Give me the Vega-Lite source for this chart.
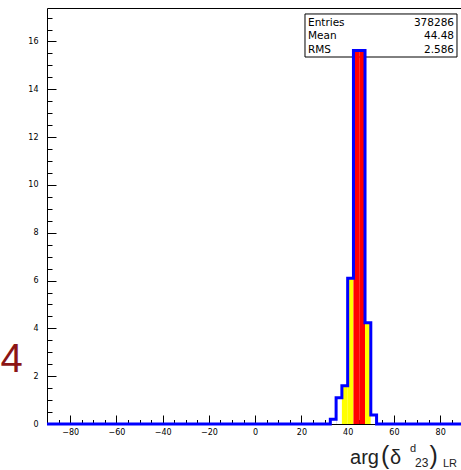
{
  "$schema": "https://vega.github.io/schema/vega-lite/v6.json",
  "width": 414,
  "height": 416,
  "autosize": {"type": "none"},
  "padding": {"left": 47, "top": 8, "right": 0, "bottom": 46},
  "background": "white",
  "config": {
    "view": {"stroke": null},
    "scale": {"continuousPadding": 0},
    "axis": {
      "labelFont": "DejaVu Sans",
      "labelFontSize": 8,
      "labelColor": "black",
      "domainColor": "black",
      "domainWidth": 1,
      "tickColor": "black",
      "tickWidth": 1,
      "grid": false,
      "title": null,
      "labelOverlap": false,
      "labelFlush": false
    }
  },
  "datasets": {
    "hist": [
      {"lo": -90, "hi": 32.5, "count": 0, "region": "outer"},
      {"lo": 32.5, "hi": 35, "count": 0.2, "region": "outer"},
      {"lo": 35, "hi": 37.5, "count": 1.1, "region": "outer"},
      {"lo": 37.5, "hi": 40, "count": 1.6, "region": "core"},
      {"lo": 40, "hi": 42.5, "count": 6.1, "region": "core"},
      {"lo": 42.5, "hi": 45, "count": 15.62, "region": "peak"},
      {"lo": 45, "hi": 47.5, "count": 15.62, "region": "peak"},
      {"lo": 47.5, "hi": 50, "count": 4.23, "region": "core"},
      {"lo": 50, "hi": 52.5, "count": 0.38, "region": "outer"},
      {"lo": 52.5, "hi": 90, "count": 0, "region": "outer"}
    ],
    "stats": [
      {"stat": "Entries", "value": "378286"},
      {"stat": "Mean", "value": "44.48"},
      {"stat": "RMS", "value": "2.586"}
    ],
    "one": [{}]
  },
  "resolve": {"axis": {"x": "independent", "y": "independent"}},
  "layer": [
    {
      "data": {"name": "one"},
      "mark": {"type": "rect", "fill": "white", "stroke": "black", "strokeWidth": 1},
      "encoding": {
        "x": {"datum": 21.55, "type": "quantitative", "scale": {"domain": [-90, 89], "nice": false, "zero": false, "padding": 0},
              "axis": {"orient": "top", "labels": false, "ticks": false, "domain": true, "title": null}},
        "x2": {"datum": 87.27},
        "y": {"datum": 17.15, "type": "quantitative", "scale": {"domain": [0, 17.4], "nice": false, "padding": 0}, "axis": null},
        "y2": {"datum": 15.35}
      }
    },
    {
      "data": {"name": "stats"},
      "mark": {"type": "text", "align": "left", "baseline": "alphabetic", "font": "DejaVu Sans", "fontSize": 10.5, "color": "black"},
      "encoding": {
        "x": {"datum": 22.85, "type": "quantitative", "scale": {"domain": [-90, 89], "nice": false, "zero": false, "padding": 0}, "axis": null},
        "y": {"datum": 16.65, "type": "quantitative", "scale": {"domain": [0, 17.4], "nice": false, "padding": 0}, "axis": null},
        "yOffset": {"field": "stat", "type": "nominal", "sort": ["Entries", "Mean", "RMS"], "scale": {"type": "point", "range": [0, 27], "padding": 0}},
        "text": {"field": "stat"}
      }
    },
    {
      "data": {"name": "stats"},
      "mark": {"type": "text", "align": "right", "baseline": "alphabetic", "font": "DejaVu Sans", "fontSize": 10.5, "color": "black"},
      "encoding": {
        "x": {"datum": 85.98, "type": "quantitative", "scale": {"domain": [-90, 89], "nice": false, "zero": false, "padding": 0}, "axis": null},
        "y": {"datum": 16.65, "type": "quantitative", "scale": {"domain": [0, 17.4], "nice": false, "padding": 0}, "axis": null},
        "yOffset": {"field": "stat", "type": "nominal", "sort": ["Entries", "Mean", "RMS"], "scale": {"type": "point", "range": [0, 27], "padding": 0}},
        "text": {"field": "value"}
      }
    },
    {
      "data": {"name": "hist"},
      "mark": {"type": "bar", "strokeWidth": 0, "orient": "vertical"},
      "encoding": {
        "x": {"field": "lo", "type": "quantitative", "scale": {"domain": [-90, 89], "nice": false, "zero": false, "padding": 0},
              "axis": {"orient": "bottom", "values": [-80, -60, -40, -20, 0, 20, 40, 60, 80], "tickSize": -9, "labelPadding": 13, "domain": true}},
        "x2": {"field": "hi"},
        "y": {"field": "count", "type": "quantitative", "scale": {"domain": [0, 17.4], "nice": false, "padding": 0},
              "axis": {"orient": "left", "values": [0, 2, 4, 6, 8, 10, 12, 14, 16], "tickSize": -9, "labelPadding": 18, "domain": true}},
        "y2": {"datum": 0},
        "color": {"field": "region", "type": "nominal", "scale": {"domain": ["peak", "core", "outer"], "range": ["#ff0000", "#ffff00", "#ffffff"]}, "legend": null}
      }
    },
    {
      "data": {"name": "hist"},
      "transform": [{"fold": ["lo", "hi"], "as": ["side", "edge"]}],
      "mark": {"type": "line", "color": "#0000ff", "strokeWidth": 3, "strokeJoin": "miter", "strokeCap": "butt"},
      "encoding": {
        "x": {"field": "edge", "type": "quantitative", "scale": {"domain": [-90, 89], "nice": false, "zero": false, "padding": 0},
              "axis": {"orient": "bottom", "values": [-85, -80, -75, -70, -65, -60, -55, -50, -45, -40, -35, -30, -25, -20, -15, -10, -5, 0, 5, 10, 15, 20, 25, 30, 35, 40, 45, 50, 55, 60, 65, 70, 75, 80, 85], "tickSize": -4.5, "labels": false, "domain": false}},
        "y": {"field": "count", "type": "quantitative", "scale": {"domain": [0, 17.4], "nice": false, "padding": 0},
              "axis": {"orient": "left", "values": [0.5, 1, 1.5, 2, 2.5, 3, 3.5, 4, 4.5, 5, 5.5, 6, 6.5, 7, 7.5, 8, 8.5, 9, 9.5, 10, 10.5, 11, 11.5, 12, 12.5, 13, 13.5, 14, 14.5, 15, 15.5, 16, 16.5, 17], "tickSize": -5, "labels": false, "domain": false}},
        "order": [{"field": "lo", "type": "quantitative"}, {"field": "edge", "type": "quantitative"}]
      }
    },
    {
      "data": {"name": "one"},
      "mark": {"type": "text", "align": "left", "baseline": "alphabetic", "font": "Liberation Sans", "fontSize": 20, "color": "#222222", "text": "arg"},
      "encoding": {
        "x": {"datum": 41.01, "type": "quantitative", "scale": {"domain": [-90, 89], "nice": false, "zero": false, "padding": 0}, "axis": null},
        "y": {"datum": -1.673, "type": "quantitative", "scale": {"domain": [0, 17.4], "nice": false, "padding": 0}, "axis": null}
      }
    },
    {
      "data": {"name": "one"},
      "mark": {"type": "text", "align": "left", "baseline": "alphabetic", "font": "Liberation Sans", "fontSize": 25, "color": "#222222", "text": "("},
      "encoding": {
        "x": {"datum": 54.41, "type": "quantitative", "scale": {"domain": [-90, 89], "nice": false, "zero": false, "padding": 0}, "axis": null},
        "y": {"datum": -1.673, "type": "quantitative", "scale": {"domain": [0, 17.4], "nice": false, "padding": 0}, "axis": null}
      }
    },
    {
      "data": {"name": "one"},
      "mark": {"type": "text", "align": "left", "baseline": "alphabetic", "font": "Liberation Sans", "fontSize": 20, "color": "#222222", "text": "δ"},
      "encoding": {
        "x": {"datum": 58.3, "type": "quantitative", "scale": {"domain": [-90, 89], "nice": false, "zero": false, "padding": 0}, "axis": null},
        "y": {"datum": -1.673, "type": "quantitative", "scale": {"domain": [0, 17.4], "nice": false, "padding": 0}, "axis": null}
      }
    },
    {
      "data": {"name": "one"},
      "mark": {"type": "text", "align": "left", "baseline": "alphabetic", "font": "Liberation Sans", "fontSize": 11, "color": "#222222", "text": "d"},
      "encoding": {
        "x": {"datum": 66.95, "type": "quantitative", "scale": {"domain": [-90, 89], "nice": false, "zero": false, "padding": 0}, "axis": null},
        "y": {"datum": -1.171, "type": "quantitative", "scale": {"domain": [0, 17.4], "nice": false, "padding": 0}, "axis": null}
      }
    },
    {
      "data": {"name": "one"},
      "mark": {"type": "text", "align": "left", "baseline": "alphabetic", "font": "Liberation Sans", "fontSize": 12, "color": "#222222", "text": "23"},
      "encoding": {
        "x": {"datum": 69.11, "type": "quantitative", "scale": {"domain": [-90, 89], "nice": false, "zero": false, "padding": 0}, "axis": null},
        "y": {"datum": -1.8, "type": "quantitative", "scale": {"domain": [0, 17.4], "nice": false, "padding": 0}, "axis": null}
      }
    },
    {
      "data": {"name": "one"},
      "mark": {"type": "text", "align": "left", "baseline": "alphabetic", "font": "Liberation Sans", "fontSize": 25, "color": "#222222", "text": ")"},
      "encoding": {
        "x": {"datum": 75.38, "type": "quantitative", "scale": {"domain": [-90, 89], "nice": false, "zero": false, "padding": 0}, "axis": null},
        "y": {"datum": -1.673, "type": "quantitative", "scale": {"domain": [0, 17.4], "nice": false, "padding": 0}, "axis": null}
      }
    },
    {
      "data": {"name": "one"},
      "mark": {"type": "text", "align": "left", "baseline": "alphabetic", "font": "Liberation Sans", "fontSize": 11, "color": "#222222", "text": "LR"},
      "encoding": {
        "x": {"datum": 81.22, "type": "quantitative", "scale": {"domain": [-90, 89], "nice": false, "zero": false, "padding": 0}, "axis": null},
        "y": {"datum": -1.8, "type": "quantitative", "scale": {"domain": [0, 17.4], "nice": false, "padding": 0}, "axis": null}
      }
    },
    {
      "data": {"name": "one"},
      "mark": {"type": "text", "align": "left", "baseline": "alphabetic", "font": "Liberation Sans", "fontSize": 40, "color": "#8c1515", "text": "4"},
      "encoding": {
        "x": {"datum": -110.1, "type": "quantitative", "scale": {"domain": [-90, 89], "nice": false, "zero": false, "padding": 0}, "axis": null},
        "y": {"datum": 2.175, "type": "quantitative", "scale": {"domain": [0, 17.4], "nice": false, "padding": 0}, "axis": null}
      }
    }
  ]
}
